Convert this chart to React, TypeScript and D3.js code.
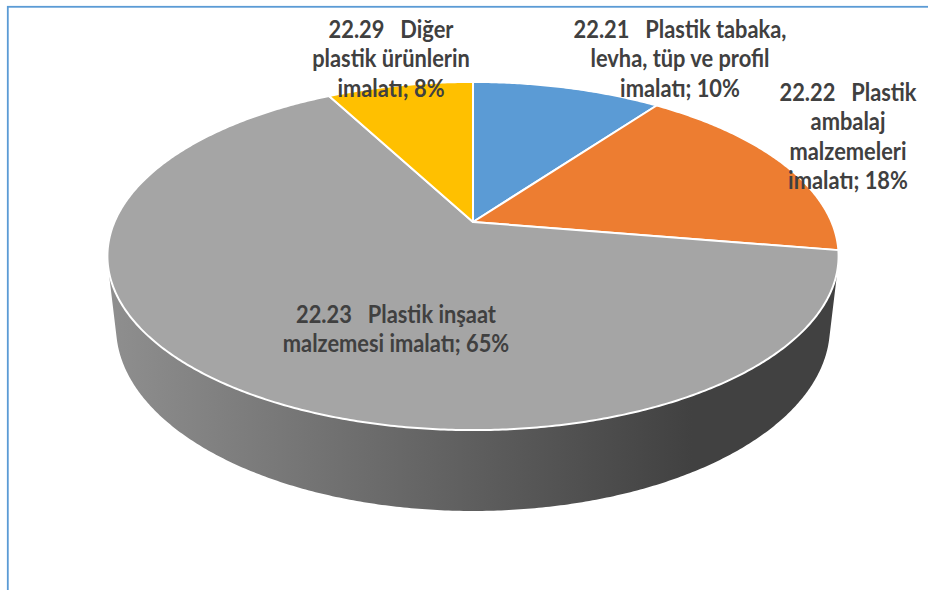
import React, { useMemo } from "react";
import * as d3 from "d3";

// ---- data ----
const categoryLines: string[][] = [
  ["22.21   Plastik tabaka,", "levha, tüp ve profil", "imalatı"],
  ["22.22   Plastik", "ambalaj", "malzemeleri", "imalatı"],
  ["22.23   Plastik inşaat", "malzemesi imalatı"],
  ["22.29   Diğer", "plastik ürünlerin", "imalatı"],
];
const shares: number[] = [10.1, 17.5, 64.6, 7.8];
const sliceColors: string[] = ["#5B9BD5", "#ED7D31", "#A5A5A5", "#FFC000"];

// ---- layout (label anchors: centre x, first baseline y) ----
const labelAnchors: [number, number][] = [
  [680, 38],
  [848, 101],
  [396, 323],
  [391, 38],
];

const W = 928;
const H = 590;

// camera / projection of a unit-radius disc
const CX = 473;
const CY = 222;
const F = 1622;
const DIST = 4.524;
const SIN_P = 0.467;
const COS_P = Math.sqrt(1 - SIN_P * SIN_P);
const THICK = 0.2265;

function project(theta: number, r: number, z: number): [number, number] {
  const u = r * Math.sin(theta);
  const Y = r * Math.cos(theta);
  const depth = DIST + Y * COS_P - z * SIN_P;
  const sy = Y * SIN_P + z * COS_P;
  return [CX + (F * u) / depth, CY - (F * sy) / depth];
}

function arcPoints(a0: number, a1: number, z: number): [number, number][] {
  const n = Math.max(2, Math.ceil(Math.abs(a1 - a0) / (Math.PI / 360)));
  const pts: [number, number][] = [];
  for (let i = 0; i <= n; i++) {
    const a = a0 + ((a1 - a0) * i) / n;
    pts.push(project(a, 1, z));
  }
  return pts;
}

export default function App() {
  const arcs = useMemo(
    () =>
      d3
        .pie<number>()
        .sort(null)
        .value((d) => d)
        .startAngle(0)
        .endAngle(2 * Math.PI)(shares),
    []
  );

  const line = d3.line();

  // silhouette generators of the cylinder
  const thS = Math.acos(-1 / (DIST * COS_P));
  const thE = 2 * Math.PI - thS;

  const xLeft = project(thE, 1, 0)[0];
  const xRight = project(thS, 1, 0)[0];

  const sides = arcs
    .map((a, i) => {
      const s = Math.max(a.startAngle, thS);
      const e = Math.min(a.endAngle, thE);
      if (e <= s) return null;
      const top = arcPoints(s, e, 0);
      const bot = arcPoints(e, s, -THICK);
      return { i, d: line([...top, ...bot])! + "Z" };
    })
    .filter(Boolean) as { i: number; d: string }[];

  const tops = arcs.map((a, i) => {
    const pts = [project(0, 0, 0), ...arcPoints(a.startAngle, a.endAngle, 0)];
    return { i, d: line(pts)! + "Z" };
  });

  const fontFamily = "'Liberation Sans Narrow', 'Arial Narrow', Lato, sans-serif";
  const squeeze = 0.91;

  return (
    <svg
      width={W}
      height={H}
      viewBox={`0 0 ${W} ${H}`}
      style={{ position: "absolute", left: 0, top: 0, display: "block", background: "#fff" }}
    >
      <defs>
        {sliceColors.map((c, i) => {
          const col = d3.color(c)!;
          return (
            <linearGradient
              key={i}
              id={`side-${i}`}
              gradientUnits="userSpaceOnUse"
              x1={xLeft}
              x2={xRight}
              y1={0}
              y2={0}
            >
              <stop offset="0" stopColor={col.darker(0.4).formatHex()} />
              <stop offset="0.8" stopColor={col.darker(2.6).formatHex()} />
              <stop offset="1" stopColor={col.darker(2.6).formatHex()} />
            </linearGradient>
          );
        })}
      </defs>

      <rect x={7.8} y={6.8} width={2000} height={2000} fill="none" stroke="#5B9BD5" strokeWidth={1.8} />

      {sides.map((s) => (
        <path key={`s${s.i}`} d={s.d} fill={`url(#side-${s.i})`} stroke="none" />
      ))}

      {tops.map((t) => (
        <path
          key={`t${t.i}`}
          d={t.d}
          fill={sliceColors[t.i]}
          stroke="#ffffff"
          strokeWidth={2}
          strokeLinejoin="round"
        />
      ))}

      {categoryLines.map((lines, i) => {
        const [lx, ly] = labelAnchors[i];
        const pct = `${Math.round(shares[i])}%`;
        const all = lines.map((l, j) => (j === lines.length - 1 ? `${l}; ${pct}` : l));
        return (
          <g key={`l${i}`} transform={`translate(${lx},0) scale(${squeeze},1)`}>
            <text
              x={0}
              y={ly}
              textAnchor="middle"
              fontFamily={fontFamily}
              fontWeight="bold"
              fontSize={24}
              fill="#404040"
              style={{ whiteSpace: "pre" }}
            >
              {all.map((l, j) => (
                <tspan key={j} x={0} y={ly + j * 29.5}>
                  {l}
                </tspan>
              ))}
            </text>
          </g>
        );
      })}
    </svg>
  );
}
